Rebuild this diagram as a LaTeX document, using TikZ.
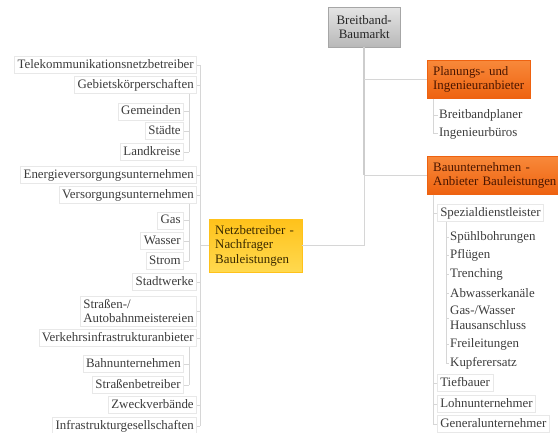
\documentclass[tikz,border=0pt]{standalone}
\usepackage{fontspec}
\setmainfont{Liberation Serif}
\definecolor{lnk}{HTML}{D6D6D6}
\definecolor{bdr}{HTML}{E8E8E8}
\definecolor{txt}{HTML}{3C3C3C}
\definecolor{orT}{HTML}{F8893A}\definecolor{orB}{HTML}{EE6210}
\definecolor{yeT}{HTML}{FFC21A}\definecolor{yeB}{HTML}{FFD94F}
\definecolor{grT}{HTML}{E4E4E4}\definecolor{grB}{HTML}{B8B8B8}
\definecolor{brn}{HTML}{4A1600}\definecolor{ybr}{HTML}{3A2A00}
\newcommand{\fs}{\fontsize{12.9pt}{14.5pt}\selectfont}
\tikzset{base/.style={draw=bdr,line width=.6pt,fill=white,inner xsep=3pt,inner ysep=3pt,font=\fs,text=txt},
 leaf/.style={base,text height=9pt,text depth=3pt,inner ysep=2.5pt},
 leafm/.style={base,align=left},
 bare/.style={inner xsep=1pt,inner ysep=1pt,font=\fs,text=txt,align=left,anchor=west},
 head/.style={draw=orB,top color=orT,bottom color=orB,inner xsep=6pt,inner ysep=6pt,font=\fs,text=brn,align=left,anchor=north west},
 netbox/.style={head,draw=yeT,top color=yeT,bottom color=yeB,text=ybr},
 topbox/.style={draw=gray!70,top color=grT,bottom color=grB,font=\fs,text=black!85,align=center,minimum width=72pt,minimum height=40pt,anchor=north west},
 link/.style={draw=lnk,line width=.8pt},
 trunk/.style={draw=lnk!90!gray,line width=2.2pt}}

\begin{document}
\begin{tikzpicture}[x=1pt,y=-1pt]
\useasboundingbox (0,0) rectangle (558,432);
\node[topbox](bb) at(328,7){Breitband-\\Baumarkt};
% Netzbetreiber
\node[netbox,text width=81pt](nb) at(209,219){Netzbetreiber -\\Nachfrager\\Bauleistungen};
\node[leaf,anchor=east](tk) at(197,65){Telekommunikationsnetzbetreiber};
\node[leaf,anchor=east](gk) at(197,85){Gebietskörperschaften};
\node[leaf,anchor=east](gm) at(184,111.5){Gemeinden};
\node[leaf,anchor=east](sd) at(184,131){Städte};
\node[leaf,anchor=east](lk) at(184,152){Landkreise};
\node[leaf,anchor=east](ev) at(197,175){Energieversorgungsunternehmen};
\node[leaf,anchor=east](vu) at(197,195){Versorgungsunternehmen};
\node[leaf,anchor=east](gs) at(184,220.5){Gas};
\node[leaf,anchor=east](ws) at(184,241){Wasser};
\node[leaf,anchor=east](sr) at(184,261){Strom};
\node[leaf,anchor=east](sw) at(197,282){Stadtwerke};
\node[leafm,anchor=east](sa) at(197,311){Straßen-/\\Autobahnmeistereien};
\node[leaf,anchor=east](vi) at(197,338){Verkehrsinfrastrukturanbieter};
\node[leaf,anchor=east](bh) at(184,364){Bahnunternehmen};
\node[leaf,anchor=east](sb) at(184,385){Straßenbetreiber};
\node[leaf,anchor=east](zv) at(197,405){Zweckverbände};
\node[leaf,anchor=east](ig) at(197,426){Infrastrukturgesellschaften};
% Planungs- und Ingenieuranbieter
\node[head,text width=91pt](pi) at(427,60){Planungs- und\\Ingenieuranbieter};
\node[bare](bp) at(438,115){Breitbandplaner};
\node[bare](in) at(438,133){Ingenieurbüros};
% Bauunternehmen
\node[head,text width=124pt](ba) at(427,156){Bauunternehmen -\\Anbieter Bauleistungen};
\node[leaf,anchor=west](sp) at(437,213){Spezialdienstleister};
\node[bare](s1) at(449,237){Spühlbohrungen};
\node[bare](s2) at(449,255){Pflügen};
\node[bare](s3) at(449,274){Trenching};
\node[bare](s4) at(449,293){Abwasserkanäle};
\node[bare](s5) at(449,318){Gas-/Wasser\\Hausanschluss};
\node[bare](s6) at(449,344){Freileitungen};
\node[bare](s7) at(449,363){Kupferersatz};
\node[leaf,anchor=west](tb) at(437,383){Tiefbauer};
\node[leaf,anchor=west](lu) at(437,404){Lohnunternehmer};
\node[leaf,anchor=west](gu) at(437,424){Generalunternehmer};
\coordinate(lt) at(200,0);\coordinate(ls) at(189,0);
\coordinate(rt) at(433,0);\coordinate(rs) at(446,0);
% connectors
\draw[trunk](bb.south)--(bb.south|-ba.west);
\draw[link](bb.south|-ba.west)--(bb.south|-nb.east)--(nb.east)(nb.west)--(nb.west-|lt)
 (bb.south|-pi.west)--(pi.west)(bb.south|-ba.west)--(ba.west);
\draw[link](tk.east-|lt)--(ig.east-|lt)(tk.east)--(tk.east-|lt)(gk.east)--(gk.east-|lt)
 (ev.east)--(ev.east-|lt)(vu.east)--(vu.east-|lt)(sw.east)--(sw.east-|lt)(sa.east)--(sa.east-|lt)
 (vi.east)--(vi.east-|lt)(zv.east)--(zv.east-|lt)(ig.east)--(ig.east-|lt);
\draw[link](gk.south-|ls)--(lk.east-|ls)(gm.east)--(gm.east-|ls)(sd.east)--(sd.east-|ls)(lk.east)--(lk.east-|ls)
 (vu.south-|ls)--(sr.east-|ls)(gs.east)--(gs.east-|ls)(ws.east)--(ws.east-|ls)(sr.east)--(sr.east-|ls)
 (vi.south-|ls)--(sb.east-|ls)(bh.east)--(bh.east-|ls)(sb.east)--(sb.east-|ls);
\draw[link](pi.south-|rt)--(in.west-|rt)(bp.west-|rt)--(bp.west)(in.west-|rt)--(in.west);
\draw[link](ba.south-|rt)--(gu.west-|rt)(sp.west-|rt)--(sp.west)(tb.west-|rt)--(tb.west)
 (lu.west-|rt)--(lu.west)(gu.west-|rt)--(gu.west);
\draw[link](sp.south-|rs)--(s7.west-|rs)(s1.west-|rs)--(s1.west)(s2.west-|rs)--(s2.west)(s3.west-|rs)--(s3.west)
 (s4.west-|rs)--(s4.west)(s5.west-|rs)--(s5.west)(s6.west-|rs)--(s6.west)(s7.west-|rs)--(s7.west);
\end{tikzpicture}
\end{document}
